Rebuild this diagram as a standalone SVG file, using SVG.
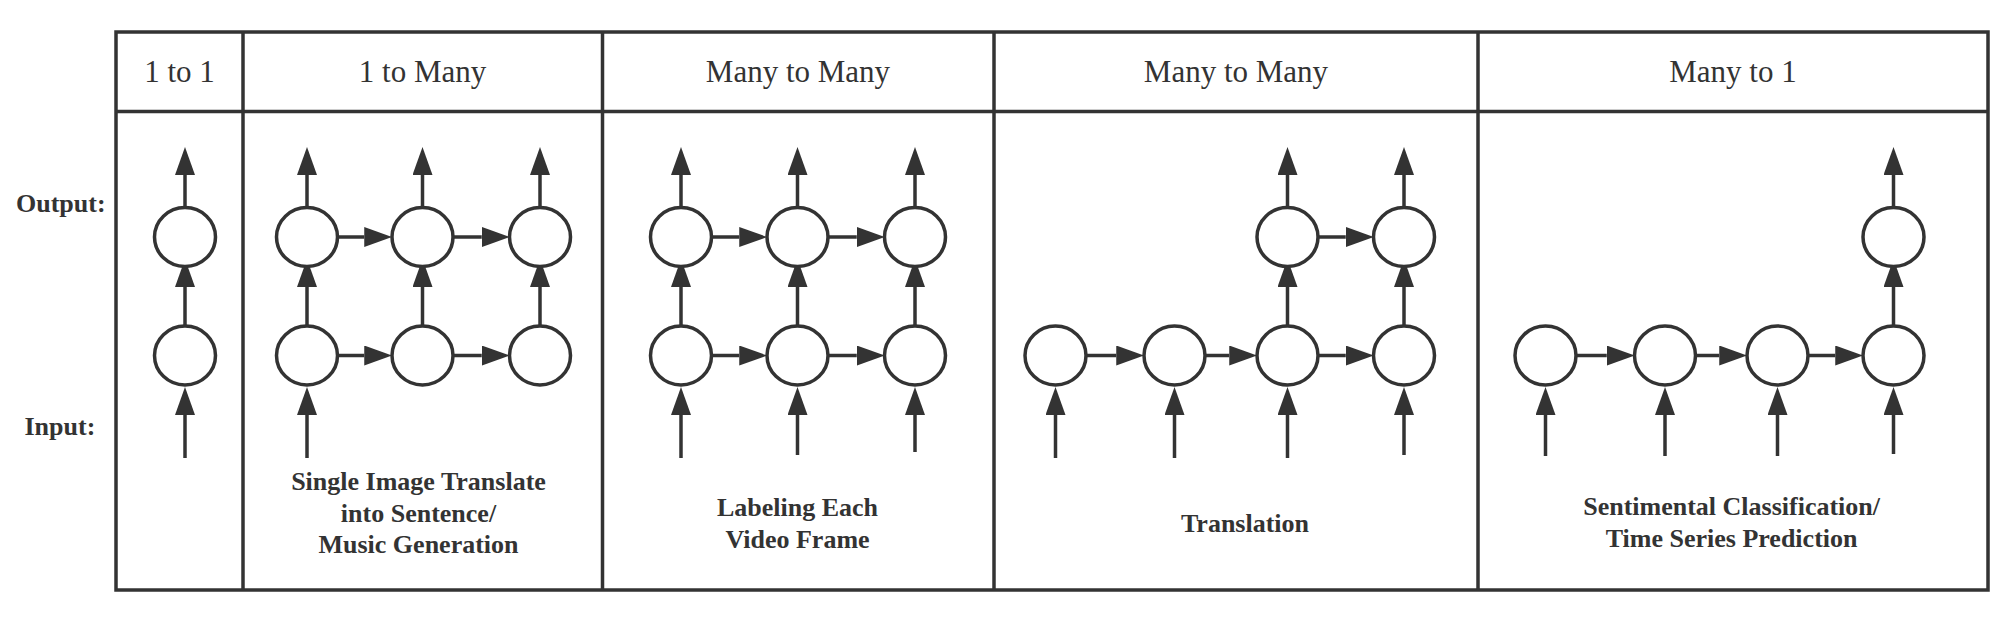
<svg xmlns="http://www.w3.org/2000/svg" width="2008" height="624" viewBox="0 0 2008 624">
<style>
.frame{fill:none;stroke:#333;stroke-width:3.5}
.grid{stroke:#333;stroke-width:3.5}
.node{fill:#fff;stroke:#333;stroke-width:3.5}
.conn{stroke:#333;stroke-width:3.5;fill:none;marker-end:url(#ah)}
.hdr{font-family:"Liberation Serif","Times New Roman",serif;font-size:31px;fill:#333;text-anchor:middle}
.lbl{font-family:"Liberation Serif","Times New Roman",serif;font-size:26px;font-weight:bold;fill:#333}
.cap{text-anchor:middle}
</style>
<defs>
<marker id="ah" markerUnits="userSpaceOnUse" markerWidth="28" markerHeight="20" viewBox="0 0 28 20" refX="0" refY="10" orient="auto">
<path d="M0,0 L28,10 L0,20 Z" fill="#333"/>
</marker>
</defs>
<rect width="2008" height="624" fill="#fff"/>
<g id="table">
<rect class="frame" x="116" y="32" width="1872" height="558"/>
<line class="grid" x1="116" y1="111.5" x2="1988" y2="111.5"/>
<line class="grid" x1="243" y1="32" x2="243" y2="590"/>
<line class="grid" x1="602.5" y1="32" x2="602.5" y2="590"/>
<line class="grid" x1="994" y1="32" x2="994" y2="590"/>
<line class="grid" x1="1478" y1="32" x2="1478" y2="590"/>
</g>
<g id="headers">
<text class="hdr" x="179.5" y="82">1 to 1</text>
<text class="hdr" x="422.5" y="82">1 to Many</text>
<text class="hdr" x="798" y="82">Many to Many</text>
<text class="hdr" x="1236" y="82">Many to Many</text>
<text class="hdr" x="1733" y="82">Many to 1</text>
</g>
<g id="row-labels">
<text class="lbl" x="16" y="212">Output:</text>
<text class="lbl" x="24.5" y="435">Input:</text>
</g>
<g id="connectors">
<!-- 1 to 1 -->
<line class="conn" x1="185" y1="207.5" x2="185" y2="175"/>
<line class="conn" x1="185" y1="326" x2="185" y2="287"/>
<line class="conn" x1="185" y1="458" x2="185" y2="415"/>
<!-- 1 to Many -->
<line class="conn" x1="307" y1="207.5" x2="307" y2="175"/>
<line class="conn" x1="422.5" y1="207.5" x2="422.5" y2="175"/>
<line class="conn" x1="540" y1="207.5" x2="540" y2="175"/>
<line class="conn" x1="307" y1="326" x2="307" y2="287"/>
<line class="conn" x1="422.5" y1="326" x2="422.5" y2="287"/>
<line class="conn" x1="540" y1="326" x2="540" y2="287"/>
<line class="conn" x1="337.5" y1="237" x2="364.25" y2="237"/>
<line class="conn" x1="453" y1="237" x2="481.75" y2="237"/>
<line class="conn" x1="337.5" y1="355.5" x2="364.25" y2="355.5"/>
<line class="conn" x1="453" y1="355.5" x2="481.75" y2="355.5"/>
<line class="conn" x1="307" y1="458" x2="307" y2="415"/>
<!-- Many to Many (labeling) -->
<line class="conn" x1="681" y1="207.5" x2="681" y2="175"/>
<line class="conn" x1="797.5" y1="207.5" x2="797.5" y2="175"/>
<line class="conn" x1="915" y1="207.5" x2="915" y2="175"/>
<line class="conn" x1="681" y1="326" x2="681" y2="287"/>
<line class="conn" x1="797.5" y1="326" x2="797.5" y2="287"/>
<line class="conn" x1="915" y1="326" x2="915" y2="287"/>
<line class="conn" x1="711.5" y1="237" x2="739.25" y2="237"/>
<line class="conn" x1="828" y1="237" x2="856.75" y2="237"/>
<line class="conn" x1="711.5" y1="355.5" x2="739.25" y2="355.5"/>
<line class="conn" x1="828" y1="355.5" x2="856.75" y2="355.5"/>
<line class="conn" x1="681" y1="458" x2="681" y2="415"/>
<line class="conn" x1="797.5" y1="455" x2="797.5" y2="415"/>
<line class="conn" x1="915" y1="452" x2="915" y2="415"/>
<!-- Many to Many (translation) -->
<line class="conn" x1="1086" y1="355.5" x2="1116.25" y2="355.5"/>
<line class="conn" x1="1205" y1="355.5" x2="1229.25" y2="355.5"/>
<line class="conn" x1="1318" y1="355.5" x2="1345.75" y2="355.5"/>
<line class="conn" x1="1318" y1="237" x2="1345.75" y2="237"/>
<line class="conn" x1="1287.5" y1="207.5" x2="1287.5" y2="175"/>
<line class="conn" x1="1404" y1="207.5" x2="1404" y2="175"/>
<line class="conn" x1="1287.5" y1="326" x2="1287.5" y2="287"/>
<line class="conn" x1="1404" y1="326" x2="1404" y2="287"/>
<line class="conn" x1="1055.5" y1="458" x2="1055.5" y2="415"/>
<line class="conn" x1="1174.5" y1="458" x2="1174.5" y2="415"/>
<line class="conn" x1="1287.5" y1="458" x2="1287.5" y2="415"/>
<line class="conn" x1="1404" y1="455" x2="1404" y2="415"/>
<!-- Many to 1 -->
<line class="conn" x1="1576" y1="355.5" x2="1606.75" y2="355.5"/>
<line class="conn" x1="1695.5" y1="355.5" x2="1719.25" y2="355.5"/>
<line class="conn" x1="1808" y1="355.5" x2="1835.25" y2="355.5"/>
<line class="conn" x1="1893.5" y1="207.5" x2="1893.5" y2="175"/>
<line class="conn" x1="1893.5" y1="326" x2="1893.5" y2="287"/>
<line class="conn" x1="1545.5" y1="456" x2="1545.5" y2="415"/>
<line class="conn" x1="1665" y1="456" x2="1665" y2="415"/>
<line class="conn" x1="1777.5" y1="456" x2="1777.5" y2="415"/>
<line class="conn" x1="1893.5" y1="454" x2="1893.5" y2="415"/>
</g>
<g id="one-to-one">
<ellipse class="node" cx="185" cy="237" rx="30.5" ry="29.5"/>
<ellipse class="node" cx="185" cy="355.5" rx="30.5" ry="29.5"/>
</g>
<g id="one-to-many">
<ellipse class="node" cx="307" cy="237" rx="30.5" ry="29.5"/>
<ellipse class="node" cx="422.5" cy="237" rx="30.5" ry="29.5"/>
<ellipse class="node" cx="540" cy="237" rx="30.5" ry="29.5"/>
<ellipse class="node" cx="307" cy="355.5" rx="30.5" ry="29.5"/>
<ellipse class="node" cx="422.5" cy="355.5" rx="30.5" ry="29.5"/>
<ellipse class="node" cx="540" cy="355.5" rx="30.5" ry="29.5"/>
<text class="lbl cap" x="418.5" y="490">Single Image Translate</text>
<text class="lbl cap" x="418.5" y="521.7">into Sentence/</text>
<text class="lbl cap" x="418.5" y="553.3">Music Generation</text>
</g>
<g id="many-to-many-a">
<ellipse class="node" cx="681" cy="237" rx="30.5" ry="29.5"/>
<ellipse class="node" cx="797.5" cy="237" rx="30.5" ry="29.5"/>
<ellipse class="node" cx="915" cy="237" rx="30.5" ry="29.5"/>
<ellipse class="node" cx="681" cy="355.5" rx="30.5" ry="29.5"/>
<ellipse class="node" cx="797.5" cy="355.5" rx="30.5" ry="29.5"/>
<ellipse class="node" cx="915" cy="355.5" rx="30.5" ry="29.5"/>
<text class="lbl cap" x="797.5" y="516">Labeling Each</text>
<text class="lbl cap" x="797.5" y="548.3">Video Frame</text>
</g>
<g id="many-to-many-b">
<ellipse class="node" cx="1287.5" cy="237" rx="30.5" ry="29.5"/>
<ellipse class="node" cx="1404" cy="237" rx="30.5" ry="29.5"/>
<ellipse class="node" cx="1055.5" cy="355.5" rx="30.5" ry="29.5"/>
<ellipse class="node" cx="1174.5" cy="355.5" rx="30.5" ry="29.5"/>
<ellipse class="node" cx="1287.5" cy="355.5" rx="30.5" ry="29.5"/>
<ellipse class="node" cx="1404" cy="355.5" rx="30.5" ry="29.5"/>
<text class="lbl cap" x="1245" y="531.7">Translation</text>
</g>
<g id="many-to-one">
<ellipse class="node" cx="1893.5" cy="237" rx="30.5" ry="29.5"/>
<ellipse class="node" cx="1545.5" cy="355.5" rx="30.5" ry="29.5"/>
<ellipse class="node" cx="1665" cy="355.5" rx="30.5" ry="29.5"/>
<ellipse class="node" cx="1777.5" cy="355.5" rx="30.5" ry="29.5"/>
<ellipse class="node" cx="1893.5" cy="355.5" rx="30.5" ry="29.5"/>
<text class="lbl cap" x="1731.6" y="515">Sentimental Classification/</text>
<text class="lbl cap" x="1731.6" y="546.7">Time Series Prediction</text>
</g>
</svg>
